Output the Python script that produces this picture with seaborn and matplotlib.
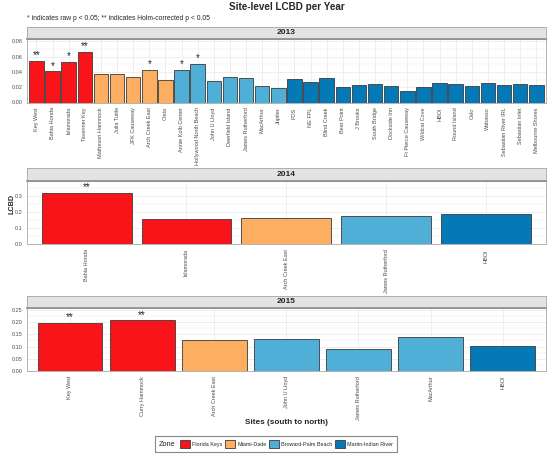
"""
Site-level LCBD per Year
------------------------
Three stacked panels (2013, 2014, 2015), bars coloured by zone,
asterisks mark significant sites.
"""

import matplotlib
matplotlib.use("Agg")
import pandas as pd
import seaborn as sns
import matplotlib.pyplot as plt
from matplotlib.patches import Patch
from matplotlib.offsetbox import HPacker
from matplotlib.ticker import MultipleLocator, FormatStrFormatter

# -------------------------------
# Data
# -------------------------------
zone_order = ["Florida Keys", "Miami-Dade", "Broward-Palm Beach", "Martin-Indian River"]

sites_2013 = ["Key West", "Bahia Honda", "Islamorada", "Tavernier Key", "Matheson Hammock",
              "Julia Tuttle", "JFK Causeway", "Arch Creek East", "Oleta", "Annie Kolb Center",
              "Hollywood North Beach", "John U Lloyd", "Deerfield Island", "James Rutherford",
              "MacArthur", "Jupiter", "FOS", "NE FPL", "Blind Creek", "Bear Point", "J Brooks",
              "South Bridge", "Dockside Inn", "Ft Pierce Causeway", "Wildcat Cove", "HBOI",
              "Round Island", "Oslo", "Wabasso", "Sebastian River IRL", "Sebastian Inlet",
              "Melbourne Shores"]
zones_2013 = (["Florida Keys"] * 4 + ["Miami-Dade"] * 5 + ["Broward-Palm Beach"] * 7
              + ["Martin-Indian River"] * 16)
lcbd_2013 = [0.0547, 0.0407, 0.0533, 0.0660, 0.0367, 0.0376, 0.0337, 0.0424, 0.0297, 0.0428,
             0.0502, 0.0275, 0.0337, 0.0324, 0.0214, 0.0192, 0.0301, 0.0271, 0.0319, 0.0197,
             0.0232, 0.0240, 0.0218, 0.0153, 0.0197, 0.0249, 0.0240, 0.0214, 0.0253, 0.0227,
             0.0245, 0.0223]
sig_2013 = ["**", "*", "*", "**", "", "", "", "*", "", "*", "*", "", "", "", "", "",
            "", "", "", "", "", "", "", "", "", "", "", "", "", "", "", ""]

sites_2014 = ["Bahia Honda", "Islamorada", "Arch Creek East", "James Rutherford", "HBOI"]
zones_2014 = ["Florida Keys", "Florida Keys", "Miami-Dade", "Broward-Palm Beach", "Martin-Indian River"]
lcbd_2014 = [0.319, 0.157, 0.162, 0.174, 0.189]
sig_2014 = ["**", "", "", "", ""]

sites_2015 = ["Key West", "Curry Hammock", "Arch Creek East", "John U Lloyd", "James Rutherford",
              "MacArthur", "HBOI"]
zones_2015 = ["Florida Keys", "Florida Keys", "Miami-Dade", "Broward-Palm Beach",
              "Broward-Palm Beach", "Broward-Palm Beach", "Martin-Indian River"]
lcbd_2015 = [0.196, 0.207, 0.128, 0.132, 0.089, 0.140, 0.104]
sig_2015 = ["**", "**", "", "", "", "", ""]

# -------------------------------
# Styling
# -------------------------------
zone_colors = {"Florida Keys": "#F81419", "Miami-Dade": "#FDAE61",
               "Broward-Palm Beach": "#4FAFD7", "Martin-Indian River": "#0479B6"}
W, H = 550, 458
LEFT, RIGHT = 26.7, 546
BAR_EDGE = "#3a3a3a"
BORDER = "#A6A6A6"
GRID = "#EBEBEB"
TICK_TXT = "#4D4D4D"

# (year, strip top, panel top, panel bottom, y max, tick step, tick format)
panel_layout = [
    ("2013", 26.7, 39.0, 102.5, 0.083, 0.02, "%.2f"),
    ("2014", 168.0, 180.7, 244.2, 0.396, 0.1, "%.1f"),
    ("2015", 295.7, 308.0, 371.0, 0.258, 0.05, "%.2f"),
]
panel_data = [
    (sites_2013, zones_2013, lcbd_2013, sig_2013),
    (sites_2014, zones_2014, lcbd_2014, sig_2014),
    (sites_2015, zones_2015, lcbd_2015, sig_2015),
]


def px_box(top, bottom):
    return [LEFT / W, 1 - bottom / H, (RIGHT - LEFT) / W, (bottom - top) / H]


def main():
    sns.set_style("white")
    plt.rcParams["font.family"] = ["Liberation Sans", "DejaVu Sans"]

    fig = plt.figure(figsize=(W / 100, H / 100), dpi=100)

    for (year, s_top, p_top, p_bot, ymax, step, fmt), (sites, zones, vals, sig) in zip(panel_layout, panel_data):
        ax = fig.add_axes(px_box(p_top, p_bot))
        df = pd.DataFrame({"site": sites, "zone": zones, "lcbd": vals})
        sns.barplot(data=df, x="site", y="lcbd", hue="zone", order=sites, hue_order=zone_order,
                    palette=zone_colors, dodge=False, width=0.9, saturation=1,
                    edgecolor=BAR_EDGE, linewidth=0.6, legend=False, ax=ax)

        n = len(sites)
        ax.set_xlim(-0.6, n - 0.4)
        ax.set_ylim(0, ymax)
        ax.yaxis.set_major_locator(MultipleLocator(step))
        ax.yaxis.set_minor_locator(MultipleLocator(step / 2))
        ax.yaxis.set_major_formatter(FormatStrFormatter(fmt))
        ax.set_axisbelow(True)
        ax.grid(which="major", color=GRID, linewidth=0.6)
        ax.grid(which="minor", axis="y", color=GRID, linewidth=0.3)
        ax.set_xlabel("")
        ax.set_ylabel("")
        ax.tick_params(axis="x", labelrotation=90, labelsize=4, labelcolor=TICK_TXT,
                       length=2, width=0.5, color="#333333", pad=1.5)
        ax.tick_params(axis="y", labelsize=4, labelcolor=TICK_TXT,
                       length=2, width=0.5, color="#333333", pad=1)
        ax.tick_params(axis="y", which="minor", length=0)
        for sp in ax.spines.values():
            sp.set_color(BORDER)
            sp.set_linewidth(0.6)

        # significance stars
        for i, (v, s) in enumerate(zip(vals, sig)):
            if s:
                ax.text(i, v + ymax * 0.01, s, ha="center", va="bottom", fontsize=7)

        # facet strip
        sax = fig.add_axes(px_box(s_top, p_top))
        sax.set_facecolor("#E3E3E3")
        sax.set_xticks([])
        sax.set_yticks([])
        for sp in sax.spines.values():
            sp.set_color(BORDER)
            sp.set_linewidth(0.6)
        sax.spines["bottom"].set_color("#8C8C8C")
        sax.spines["bottom"].set_linewidth(1.2)
        sax.text(0.5, 0.5, year, ha="center", va="center", fontsize=6, fontweight="bold",
                 transform=sax.transAxes)

    # -------------------------------
    # Titles and labels
    # -------------------------------
    fig.text(287 / W, 1 - 7.5 / H, "Site-level LCBD per Year", ha="center", va="center",
             fontsize=7.1, fontweight="bold")
    fig.text(27 / W, 1 - 19 / H, "* indicates raw p < 0.05; ** indicates Holm-corrected p < 0.05",
             ha="left", va="center", fontsize=4.9)
    fig.text(12.5 / W, 1 - 204 / H, "LCBD", rotation=90, ha="center", va="center",
             fontsize=5.2, fontweight="bold")
    fig.text(286.5 / W, 1 - 423 / H, "Sites (south to north)", ha="center", va="center",
             fontsize=5.9, fontweight="bold")

    # -------------------------------
    # Legend (title inline on the left)
    # -------------------------------
    handles = [Patch(facecolor=zone_colors[z], edgecolor=BAR_EDGE, linewidth=0.6, label=z)
               for z in zone_order]
    leg = fig.legend(handles=handles, loc="center", bbox_to_anchor=(276 / W, 1 - 444 / H),
                     ncol=4, fontsize=3.9, title="Zone", title_fontsize=5.3,
                     handlelength=1.9, handleheight=1.9, handletextpad=0.4,
                     columnspacing=0.4, borderpad=0.5, frameon=True, fancybox=False)
    leg.get_frame().set_edgecolor("#6B6B6B")
    leg.get_frame().set_linewidth(0.8)
    leg._legend_box = HPacker(pad=leg.borderpad * 4 * 100 / 72, sep=3, align="center",
                              children=[leg._legend_title_box, leg._legend_handle_box])
    leg._legend_box.set_figure(fig)
    leg._legend_box.set_offset(leg._findoffset)

    fig.savefig("out.png", dpi=100)
    print("Saved out.png")


if __name__ == "__main__":
    main()
